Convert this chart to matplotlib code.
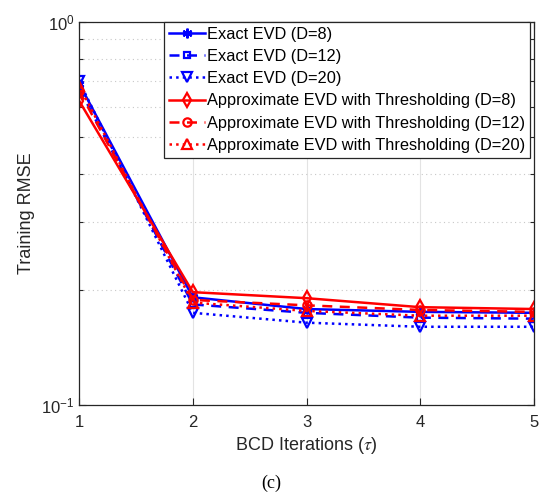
"""
Training RMSE vs BCD iterations, exact vs approximate EVD
"""
import numpy as np
import matplotlib.pyplot as plt
from matplotlib.ticker import LogLocator, NullFormatter

################################################################################
#
# data
iters = [1, 2, 3, 4, 5]

exact_d8 = [0.690, 0.191, 0.178, 0.175, 0.174]
exact_d12 = [0.670, 0.183, 0.174, 0.169, 0.168]
exact_d20 = [0.700, 0.174, 0.164, 0.160, 0.160]
approx_d8 = [0.622, 0.197, 0.190, 0.180, 0.178]
approx_d12 = [0.660, 0.188, 0.182, 0.177, 0.175]
approx_d20 = [0.680, 0.185, 0.176, 0.171, 0.171]

labels = ['Exact EVD (D=8)', 'Exact EVD (D=12)', 'Exact EVD (D=20)',
          'Approximate EVD with Thresholding (D=8)',
          'Approximate EVD with Thresholding (D=12)',
          'Approximate EVD with Thresholding (D=20)']

################################################################################
#
# create plot
plt.rcParams['font.family'] = ['Liberation Sans', 'DejaVu Sans']
plt.rcParams['mathtext.fontset'] = 'stix'

fig = plt.figure(figsize=(5.42, 4.96), dpi=100)
ax = fig.add_axes([0.146, 0.1835, 0.839, 0.7725])

blue = '#0000ff'
red = '#ff0000'
kw = dict(lw=1.8, ms=7, mew=1.6, mfc='none')

ax.plot(iters, exact_d8, '-', color=blue, marker=(6, 2, 0), label=labels[0], **kw)
ax.plot(iters, exact_d12, '--', color=blue, marker='s', label=labels[1],
        lw=1.8, ms=5, mew=1.6, mfc='none', dashes=(4, 3))
ax.plot(iters, exact_d20, ':', color=blue, marker='v', label=labels[2], **kw)
ax.plot(iters, approx_d8, '-', color=red, marker='d', label=labels[3], **kw)
ax.plot(iters, approx_d12, '--', color=red, marker='o', label=labels[4],
        lw=1.8, ms=6, mew=1.6, mfc='none', dashes=(4, 3))
ax.plot(iters, approx_d20, ':', color=red, marker='^', label=labels[5], **kw)

ax.set_yscale('log')
ax.set_xlim(1, 5)
ax.set_ylim(0.1, 1)
ax.set_xticks(iters)
ax.yaxis.set_minor_locator(LogLocator(base=10, subs=np.arange(2, 10)))
ax.yaxis.set_minor_formatter(NullFormatter())

ax.grid(True, axis='x', which='major', color='#e3e3e3', lw=0.8)
ax.grid(True, axis='y', which='both', color='#c8c8c8', lw=0.8, ls=(0, (1, 3)))
ax.set_axisbelow(True)

ax.tick_params(which='both', direction='in', top=True, right=True,
               labelsize=12, colors='#262626', width=0.8)
ax.tick_params(which='major', length=5)
ax.tick_params(which='minor', length=3)
ax.tick_params(axis='x', pad=7)
for s in ax.spines.values():
    s.set_color('#262626')
    s.set_linewidth(0.9)

ax.set_xlabel(r'BCD Iterations ($\tau$)', fontsize=13, color='#262626', labelpad=4)
ax.set_ylabel('Training RMSE', fontsize=13, color='#262626', labelpad=4)

leg = ax.legend(loc='upper right', fontsize=11.8, handlelength=2.2,
                handletextpad=0.15, labelspacing=0.44, borderpad=0.3,
                borderaxespad=0.0, fancybox=False, framealpha=1,
                edgecolor='#262626', bbox_to_anchor=(0.992, 1.0))
leg.get_frame().set_linewidth(0.9)

fig.text(0.5, 0.026, '(c)', ha='center', va='center', fontsize=13,
         family='Liberation Serif')

fig.savefig('out.png', dpi=100)
